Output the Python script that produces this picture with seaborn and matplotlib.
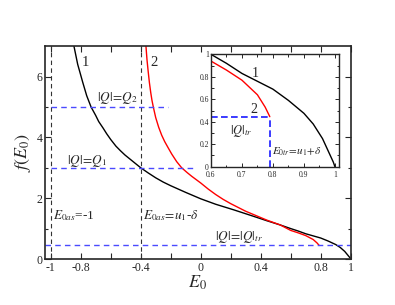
import matplotlib
matplotlib.use("Agg")
import matplotlib.pyplot as plt
import seaborn as sns
import numpy as np

# curve 1 (black) and curve 2 (red)
e_curve1 = [-0.86, -0.845, -0.82, -0.8, -0.787, -0.76, -0.731, -0.7, -0.68, -0.65, -0.627,
            -0.6, -0.565, -0.535, -0.505, -0.45, -0.4, -0.35, -0.3, -0.25, -0.2, -0.1,
            0.0, 0.1, 0.218, 0.33, 0.44, 0.53, 0.6, 0.65, 0.7, 0.75, 0.8, 0.85, 0.9,
            0.93, 0.96, 0.98, 0.995, 1.0]
f_curve1 = [7.5, 7.0, 6.4, 6.05, 5.82, 5.37, 5.0, 4.72, 4.52, 4.3, 4.12,
            3.93, 3.71, 3.56, 3.42, 3.2, 3.0, 2.83, 2.67, 2.53, 2.41, 2.19,
            1.98, 1.8, 1.62, 1.44, 1.26, 1.12, 1.0, 0.92, 0.83, 0.76, 0.69, 0.59, 0.475,
            0.38, 0.25, 0.13, 0.04, 0.0]

e_curve2 = [-0.37, -0.365, -0.358, -0.35, -0.342, -0.333, -0.325, -0.316, -0.3, -0.28,
            -0.26, -0.24, -0.215, -0.193, -0.16, -0.127, -0.09, -0.06, -0.03,
            0.0, 0.05, 0.1, 0.15, 0.2, 0.3, 0.44, 0.53, 0.6, 0.65, 0.7, 0.75, 0.775, 0.79]
f_curve2 = [7.5, 7.0, 6.55, 6.16, 5.8, 5.47, 5.22, 5.0, 4.65, 4.33,
            4.07, 3.86, 3.64, 3.45, 3.2, 3.0, 2.84, 2.72, 2.61,
            2.5, 2.3, 2.12, 1.96, 1.82, 1.57, 1.28, 1.12, 0.94, 0.86, 0.77, 0.64, 0.53, 0.445]

# reference levels
q2_level = 5.0
q1_level = 3.0
qtr_level = 0.445
e_as_left = -1.0
e_as_mid = -0.4
e_tr = 0.79

sns.set_style("ticks")
plt.rcParams['font.family'] = ['Liberation Serif', 'DejaVu Serif']
plt.rcParams['mathtext.fontset'] = 'stix'

fig = plt.figure(figsize=(3.95, 3.05), dpi=100)
ax = fig.add_axes([0.1139, 0.1508, 0.774, 0.698])

sns.lineplot(x=e_curve1, y=f_curve1, ax=ax, color='black', lw=1.0, sort=False)
sns.lineplot(x=e_curve2, y=f_curve2, ax=ax, color='red', lw=1.0, sort=False)

# dashed guides
for xv in (e_as_left, e_as_mid):
    ax.axvline(xv, color='#333333', ls=(0, (4, 3)), lw=0.8)
blue = '#4a4aff'
ax.plot([-1.0, -0.22], [q2_level, q2_level], color=blue, ls=(0, (4, 3)), lw=1.0)
ax.plot([-1.0, -0.03], [q1_level, q1_level], color=blue, ls=(0, (4, 3)), lw=1.0)
ax.axhline(qtr_level, color=blue, ls=(0, (4, 3)), lw=1.0)

ax.set_xlim(-1.038, 1.0)
ax.set_ylim(0, 7)
ax.set_xticks(np.arange(-1.0, 1.01, 0.2))
ax.set_xticklabels(['-1', '-0.8', '', '-0.4', '', '0', '', '0.4', '', '0.8', '1'])
ax.set_yticks([0, 2, 4, 6])
ax.set_yticks([1, 3, 5], minor=True)
ax.tick_params(axis='both', which='both', direction='in', top=True, right=True,
               labelsize=8.5, width=0.8, pad=2)
ax.tick_params(which='major', length=4)
ax.tick_params(which='minor', length=2.5)
for s in ax.spines.values():
    s.set_linewidth(1.2)

ax.set_xlabel('$E_0$', fontsize=13, labelpad=0)
ax.set_ylabel('$f(E_0)$', fontsize=13, labelpad=2)

ax.text(-0.79, 6.33, '1', fontsize=10.5)
ax.text(-0.338, 6.33, '2', fontsize=10.5)
ax.text(-0.69, 5.2, r'$|Q|\!=\!Q_2$', fontsize=9.5)
ax.text(-0.89, 3.13, r'$|Q|\!=\!Q_1$', fontsize=9.5)
ax.text(-0.985, 1.32, r'$E_{0as}$=-1', fontsize=9.5)
ax.text(-0.385, 1.32, r'$E_{0as}\!=\!u_1$-$\delta$', fontsize=9.5)
ax.text(0.096, 0.63, r'$|Q|\!=\!|Q|_{tr}$', fontsize=9.5)

# inset
ins = fig.add_axes([0.534, 0.4534, 0.3233, 0.3685])
sns.lineplot(x=e_curve1, y=f_curve1, ax=ins, color='black', lw=1.0, sort=False)
sns.lineplot(x=e_curve2, y=f_curve2, ax=ins, color='red', lw=1.0, sort=False)
ins.plot([0.6, e_tr], [qtr_level, qtr_level], color='#1a1aff', ls=(0, (4, 2)), lw=1.2)
ins.plot([e_tr, e_tr], [0, qtr_level], color='#1a1aff', ls=(0, (4, 2)), lw=1.2)
ins.set_xlim(0.6, 1.012)
ins.set_ylim(0, 1)
ins.set_xticks([0.6, 0.7, 0.8, 0.9, 1.0])
ins.set_xticklabels(['0.6', '0.7', '0.8', '0.9', '1'])
ins.set_xticks(np.arange(0.65, 1.0, 0.1), minor=True)
ins.set_yticks([0, 0.2, 0.4, 0.6, 0.8, 1.0])
ins.set_yticklabels(['0', '0.2', '0.4', '0.6', '0.8', '1'])
ins.set_yticks(np.arange(0.1, 1.0, 0.2), minor=True)
ins.tick_params(axis='both', which='both', direction='in', top=True, right=True,
                labelsize=5.5, width=0.7)
ins.tick_params(axis='x', pad=3)
ins.tick_params(axis='y', pad=1.5)
ins.tick_params(which='major', length=3)
ins.tick_params(which='minor', length=1.8)
for s in ins.spines.values():
    s.set_linewidth(1.0)

ins.text(0.731, 0.8, '1', fontsize=10)
ins.text(0.726, 0.475, '2', fontsize=10)
ins.text(0.661, 0.29, r'$|Q|_{tr}$', fontsize=9)
ins.text(0.796, 0.11, r'$E_{0tr}\!=\!u_1\!+\!\delta$', fontsize=8)

fig.savefig('out.png', dpi=100)
